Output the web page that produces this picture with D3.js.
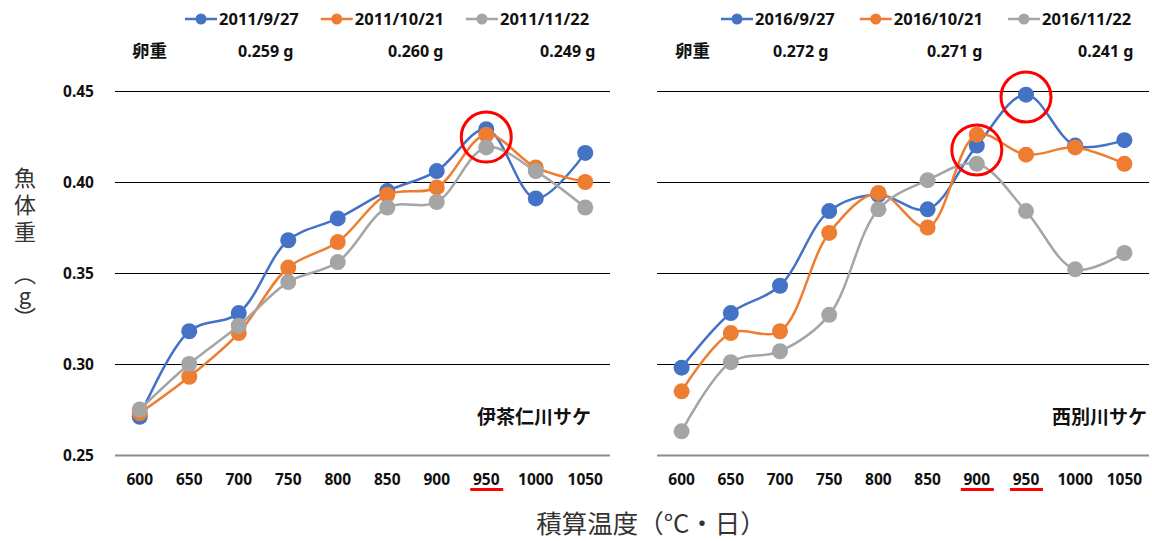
<!DOCTYPE html>
<html><head><meta charset="utf-8">
<script src="https://cdn.jsdelivr.net/npm/d3@7"></script>
<style>
html,body{margin:0;padding:0;background:#fff;}
svg{display:block;}
</style></head>
<body>
<svg id="chart" width="1152" height="541"></svg>
<script>
// ---- data ----
const categories = [600, 650, 700, 750, 800, 850, 900, 950, 1000, 1050];
const yTicks = [0.25, 0.30, 0.35, 0.40, 0.45];
const yTickLabels = ["0.25", "0.30", "0.35", "0.40", "0.45"];

const ichaniNames = ["2011/9/27", "2011/10/21", "2011/11/22"];
const ichaniEgg = ["0.259 g", "0.260 g", "0.249 g"];
const ichani_0927 = [0.271, 0.318, 0.328, 0.368, 0.380, 0.395, 0.406, 0.429, 0.391, 0.416];
const ichani_1021 = [0.273, 0.293, 0.317, 0.353, 0.367, 0.393, 0.397, 0.426, 0.408, 0.400];
const ichani_1122 = [0.275, 0.300, 0.321, 0.345, 0.356, 0.386, 0.389, 0.419, 0.406, 0.386];
const ichaniHighlight = [950];
const ichaniCircles = [[950, 0.4247]];

const nishiNames = ["2016/9/27", "2016/10/21", "2016/11/22"];
const nishiEgg = ["0.272 g", "0.271 g", "0.241 g"];
const nishi_0927 = [0.298, 0.328, 0.343, 0.384, 0.393, 0.385, 0.420, 0.448, 0.420, 0.423];
const nishi_1021 = [0.285, 0.317, 0.318, 0.372, 0.394, 0.375, 0.426, 0.415, 0.419, 0.410];
const nishi_1122 = [0.263, 0.301, 0.307, 0.327, 0.385, 0.401, 0.410, 0.384, 0.352, 0.361];
const nishiHighlight = [900, 950];
const nishiCircles = [[950, 0.4467], [900, 0.4176]];

const eggLabel = "卵重";
const yTitleMain = "魚体重";
const yTitleUnit = "（g）";
const xTitle = "積算温度（°C・日）";

// ---- styles ----
const colors = ["#4472C4", "#ED7D31", "#A5A5A5"];
const latin = "'Noto Sans', 'Open Sans', sans-serif";
const cjk = "'Noto Sans CJK JP', 'Noto Sans', sans-serif";

const svg = d3.select("#chart");
const y = d3.scaleLinear().domain([0.25, 0.45]).range([455, 91]);

const panels = [
  {range: [115, 610], names: ichaniNames, egg: ichaniEgg, series: [ichani_0927, ichani_1021, ichani_1122],
   title: "伊茶仁川サケ", highlight: ichaniHighlight, circles: ichaniCircles, yLabels: true,
   legendX: 185, legendGap: 22, eggX: [132, 238, 388, 540], titleX: 591},
  {range: [657, 1149], names: nishiNames, egg: nishiEgg, series: [nishi_0927, nishi_1021, nishi_1122],
   title: "西別川サケ", highlight: nishiHighlight, circles: nishiCircles, yLabels: false,
   legendX: 721, legendGap: 25, eggX: [675, 773, 927, 1078], titleX: 1147}
];

panels.forEach(p => {
  const x = d3.scaleBand().domain(categories).range(p.range);
  const cx = c => x(c) + x.bandwidth() / 2;
  const g = svg.append("g");

  // gridlines
  yTicks.forEach((t, i) => {
    g.append("line")
      .attr("x1", p.range[0]).attr("x2", p.range[1])
      .attr("y1", Math.round(y(t)) + 0.5).attr("y2", Math.round(y(t)) + 0.5)
      .attr("stroke", i === 0 ? "#8c8c8c" : "#000")
      .attr("stroke-width", i === 0 ? 2 : 1);
    if (p.yLabels) {
      g.append("text").attr("x", 94).attr("y", y(t)).attr("dy", "0.36em")
        .attr("text-anchor", "end").attr("font-family", latin).attr("font-weight", "bold")
        .attr("font-size", 15.5).attr("fill", "#111").text(yTickLabels[i]);
    }
  });

  // x tick labels
  categories.forEach(c => {
    g.append("text").attr("x", cx(c)).attr("y", 485).attr("text-anchor", "middle")
      .attr("font-family", latin).attr("font-weight", "bold").attr("font-size", 15.5)
      .attr("fill", "#111").text(c);
  });
  p.highlight.forEach(c => {
    g.append("line").attr("x1", cx(c) - 16).attr("x2", cx(c) + 17)
      .attr("y1", 489.5).attr("y2", 489.5).attr("stroke", "#ff0000").attr("stroke-width", 3);
  });

  // series
  const line = d3.line().x((d, i) => cx(categories[i])).y(d => y(d)).curve(d3.curveCatmullRom.alpha(0.5));
  p.series.forEach((s, k) => {
    g.append("path").attr("d", line(s)).attr("fill", "none")
      .attr("stroke", colors[k]).attr("stroke-width", 2.5).attr("stroke-linejoin", "round");
    g.selectAll(null).data(s).enter().append("circle")
      .attr("cx", (d, i) => cx(categories[i])).attr("cy", d => y(d)).attr("r", 8)
      .attr("fill", colors[k]);
  });

  // red circles
  p.circles.forEach(cc => {
    g.append("circle").attr("cx", cx(cc[0])).attr("cy", y(cc[1])).attr("r", 25)
      .attr("fill", "none").attr("stroke", "#ff0000").attr("stroke-width", 3);
  });

  // panel title
  g.append("text").attr("x", p.titleX).attr("y", 424)
    .attr("text-anchor", "end").attr("font-family", cjk).attr("font-weight", "bold")
    .attr("font-size", 19).attr("fill", "#111").text(p.title);

  // legend
  let lx = p.legendX;
  p.names.forEach((n, k) => {
    g.append("line").attr("x1", lx).attr("x2", lx + 32).attr("y1", 19).attr("y2", 19)
      .attr("stroke", colors[k]).attr("stroke-width", 2.5);
    g.append("circle").attr("cx", lx + 16).attr("cy", 19).attr("r", 5.5).attr("fill", colors[k]);
    const t = g.append("text").attr("x", lx + 34).attr("y", 25)
      .attr("font-family", latin).attr("font-weight", "bold").attr("font-size", 16.5)
      .attr("fill", "#111").text(n);
    lx += 34 + t.node().getComputedTextLength() + p.legendGap;
  });

  // egg weights
  g.append("text").attr("x", p.eggX[0]).attr("y", 57).attr("font-family", cjk)
    .attr("font-weight", "bold").attr("font-size", 17.5).attr("fill", "#111").text(eggLabel);
  p.egg.forEach((e, k) => {
    g.append("text").attr("x", p.eggX[k + 1]).attr("y", 57).attr("font-family", latin)
      .attr("font-weight", "bold").attr("font-size", 16).attr("fill", "#111").text(e);
  });
});

// y axis title (vertical writing)
svg.append("text").attr("x", 25).attr("y", 167)
  .style("writing-mode", "vertical-rl").style("text-orientation", "upright")
  .style("letter-spacing", "5px")
  .attr("font-family", cjk).attr("font-size", 22).attr("fill", "#333").text(yTitleMain);
svg.append("text").attr("x", 25).attr("y", 263)
  .style("writing-mode", "vertical-rl").style("text-orientation", "upright")
  .attr("font-family", cjk).attr("font-size", 22).attr("fill", "#333").text(yTitleUnit);

// x axis title
svg.append("text").attr("x", 651).attr("y", 533).attr("text-anchor", "middle")
  .attr("font-family", cjk).attr("font-size", 25.5).attr("fill", "#333").text(xTitle);
</script>
</body></html>
